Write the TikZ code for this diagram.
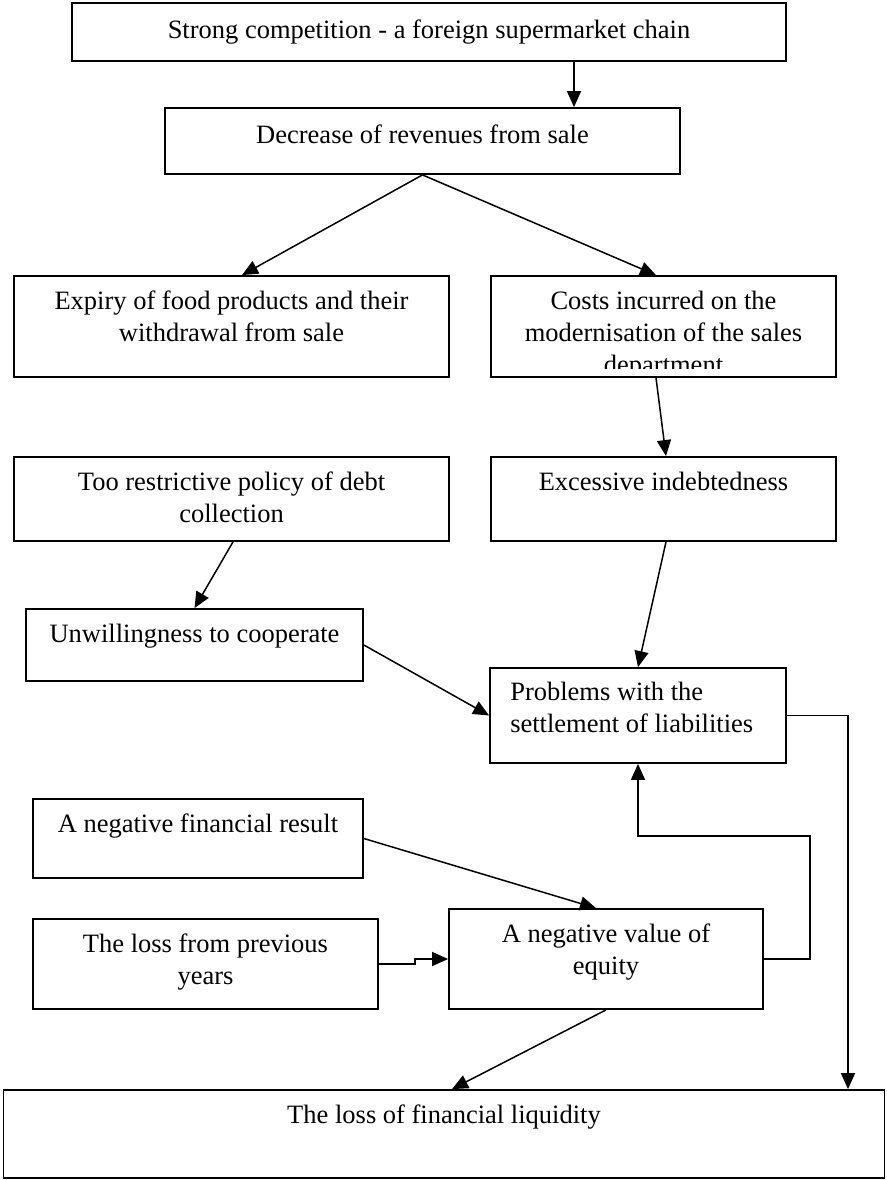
\documentclass[tikz,border=0pt]{standalone}
\usepackage{fontspec}
\setmainfont{Liberation Serif}
\usetikzlibrary{positioning,arrows.meta}

\begin{document}
\begin{tikzpicture}[x=1pt,y=-1pt,
	box/.style={rectangle,draw,line width=1.8pt,inner sep=0pt},
	txt/.style={inner sep=0pt,align=center,font=\fontsize{26.5pt}{32pt}\selectfont},
	arr/.style={-{Triangle[length=16pt,width=14pt]},line width=1.5pt}]
	\useasboundingbox (0,0) rectangle (886,1180);
	\node[box,minimum width=714pt,minimum height=58pt] (comp) at (429,32) {};
	\node[box,minimum width=515pt,minimum height=66pt] (rev) at (422.5,141) {};
	\node[box,minimum width=435pt,minimum height=101pt] (expiry) at (231.5,326.5) {};
	\node[box,minimum width=345pt,minimum height=101pt] (costs) at (663.5,326.5) {};
	\node[box,minimum width=435pt,minimum height=84pt] (policy) at (231.5,499) {};
	\node[box,minimum width=345pt,minimum height=84pt] (debt) at (663.5,499) {};
	\node[box,minimum width=337pt,minimum height=72pt] (unwill) at (194.5,645) {};
	\node[box,minimum width=296pt,minimum height=95pt] (settle) at (638,715.5) {};
	\node[box,minimum width=330pt,minimum height=79pt] (result) at (198,838.5) {};
	\node[box,minimum width=345pt,minimum height=90pt] (prevloss) at (205.5,964) {};
	\node[box,minimum width=314pt,minimum height=100pt] (equity) at (606,959) {};
	\node[box,minimum width=881pt,minimum height=88pt] (liquid) at (444,1134) {};
	% texts, set at the top of each box
	\node[txt,below=18pt of comp.north] (compT) {Strong competition - a foreign supermarket chain};
	\node[txt,below=18pt of rev.north] (revT) {Decrease of revenues from sale};
	\node[txt,below=16pt of expiry.north] (expiryT) {Expiry of food products and their\\withdrawal from sale};
	\begin{scope}
		\clip ([yshift=9pt]costs.south west) rectangle (costs.north east);
		\node[txt,below=16pt of costs.north] (costsT) {Costs incurred on the\\modernisation of the sales\\department};
	\end{scope}
	\node[txt,below=16pt of policy.north] (policyT) {Too restrictive policy of debt\\collection};
	\node[txt,below=16pt of debt.north] (debtT) {Excessive indebtedness};
	\node[txt,below=16pt of unwill.north] (unwillT) {Unwillingness to cooperate};
	\node[txt,align=left,anchor=north west] (settleT) at ([xshift=21pt,yshift=-15pt]settle.north west) {Problems with the\\settlement of liabilities};
	\node[txt,below=16pt of result.north] (resultT) {A negative financial result};
	\node[txt,below=16pt of prevloss.north] (prevlossT) {The loss from previous\\years};
	\node[txt,below=16pt of equity.north] (equityT) {A negative value of\\equity};
	\node[txt,below=16pt of liquid.north] (liquidT) {The loss of financial liquidity};
	% connectors
	\draw[arr] ([xshift=145pt]comp.south) -- ([xshift=151.5pt]rev.north);
	\draw[arr] (rev.south) -- ([xshift=10.5pt]expiry.north);
	\draw[arr] (rev.south) -- ([xshift=-7.5pt]costs.north);
	\draw[arr] ([xshift=-7.5pt]costs.south) -- ([xshift=2.5pt]debt.north);
	\draw[arr] ([xshift=1.5pt]policy.south) -- (unwill.north);
	\draw[arr] ([xshift=2.5pt]debt.south) -- (settle.north);
	\draw[arr] (unwill.east) -- (settle.west);
	\draw[arr] (result.east) -- ([xshift=-10pt]equity.north);
	\draw[arr] (prevloss.east) -- ++(36,0) |- (equity.west);
	\draw[arr] (equity.south) -- ([xshift=8pt]liquid.north);
	\draw[arr] (equity.east) -| (810,836) -| (settle.south);
	\draw[arr] (settle.east) -| ([xshift=404pt]liquid.north);
\end{tikzpicture}
\end{document}
